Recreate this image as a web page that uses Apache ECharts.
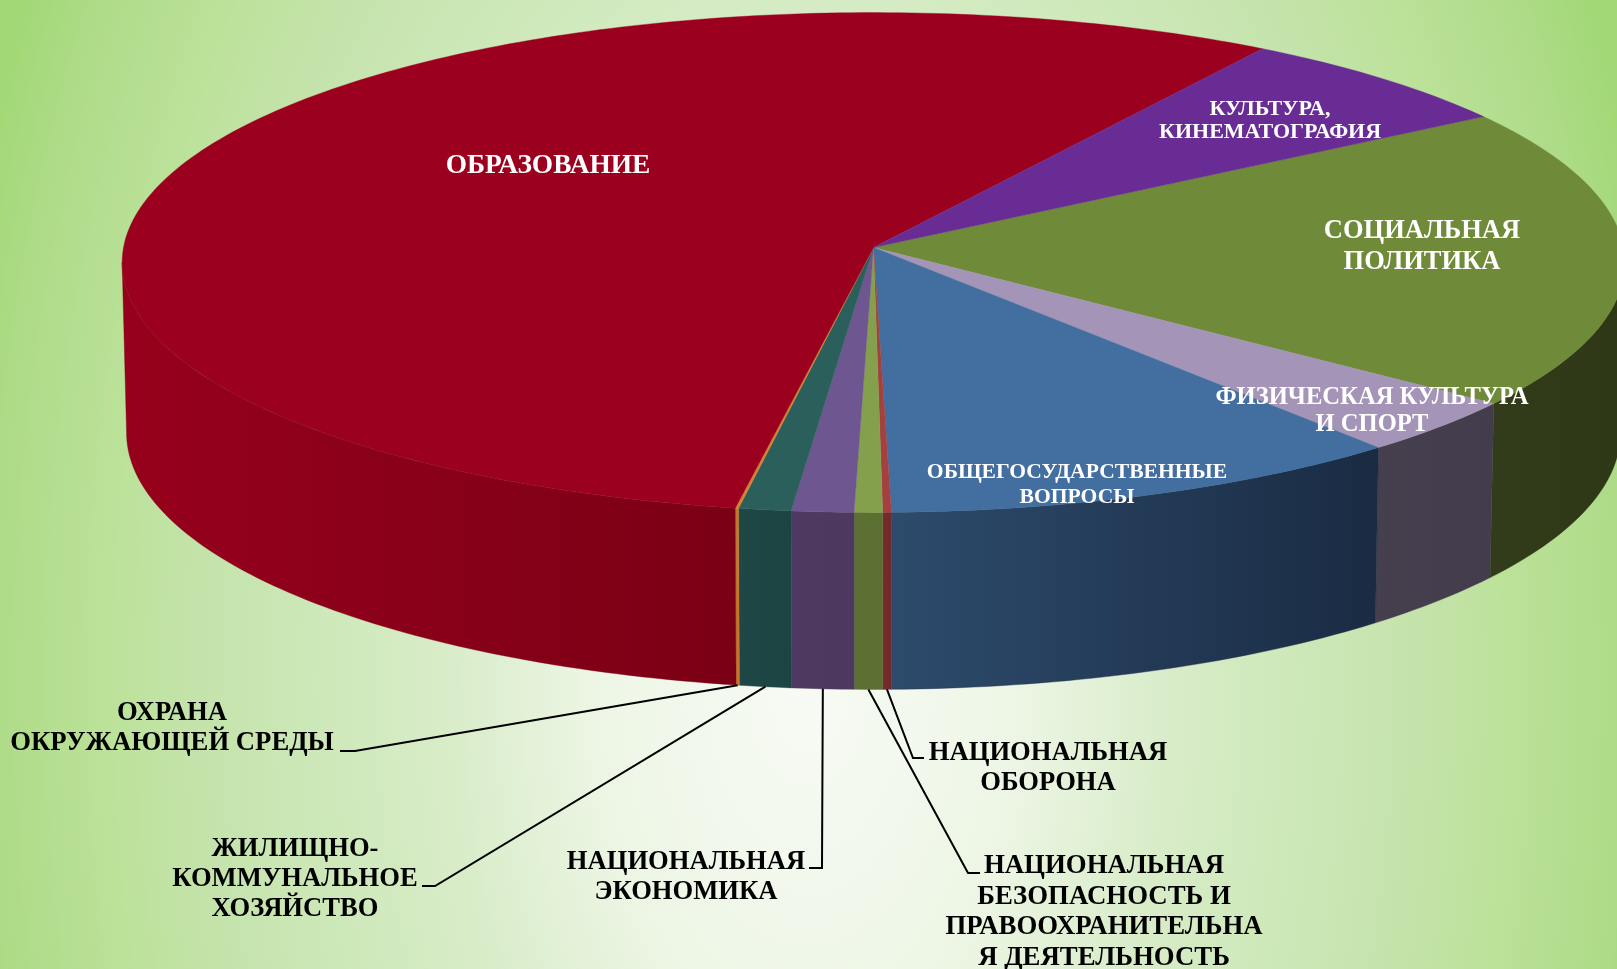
<!DOCTYPE html>
<html>
<head>
<meta charset="utf-8">
<style>html,body{margin:0;padding:0;background:#fff}#c{width:1617px;height:969px}</style>
<script src="https://cdn.jsdelivr.net/npm/echarts@6/dist/echarts.min.js"></script>
</head>
<body>
<div id="c"></div>
<script>
// ---- data (clockwise from the culture / social boundary) ----
const categories = [
  'СОЦИАЛЬНАЯ\nПОЛИТИКА',
  'ФИЗИЧЕСКАЯ КУЛЬТУРА\nИ СПОРТ',
  'ОБЩЕГОСУДАРСТВЕННЫЕ\nВОПРОСЫ',
  'НАЦИОНАЛЬНАЯ\nОБОРОНА',
  'НАЦИОНАЛЬНАЯ\nБЕЗОПАСНОСТЬ И\nПРАВООХРАНИТЕЛЬНА\nЯ ДЕЯТЕЛЬНОСТЬ',
  'НАЦИОНАЛЬНАЯ\nЭКОНОМИКА',
  'ЖИЛИЩНО-\nКОММУНАЛЬНОЕ\nХОЗЯЙСТВО',
  'ОХРАНА\nОКРУЖАЮЩЕЙ СРЕДЫ',
  'ОБРАЗОВАНИЕ',
  'КУЛЬТУРА,\nКИНЕМАТОГРАФИЯ'
];
const shares = [19.45, 3.58, 10.74, 0.175, 0.57, 1.26, 1.06, 0.067, 56.39, 6.70];

// ---- styles ----
const topColors = ['#6F8A38','#A394B8','#426EA0','#A44040','#85A04C','#6E5690','#2A5F5C','#D8802E','#9C001F','#692C94'];
const wallLeft  = ['#333C1A','#453F4E','#2D4B6C','#742B2B','#5D7033','#4F3B62','#1E4746','#C5762E','#97001C','#4A1F68'];
const wallRight = ['#2E3716','#423C4C','#1A2B43','#722A2A','#5C6F33','#4D395F','#1C4443','#C5762E','#7B0015','#4A1F68'];
const labelLayout = [
  {x:1422,y:247,size:26.5,lh:31,color:'#fff'},
  {x:1372,y:411.5,size:24.6,lh:27,color:'#fff'},
  {x:1077,y:484.5,size:21.6,lh:25,color:'#fff'},
  {x:1048,y:768,size:26.6,lh:30,color:'#000',elbow:[913,758],end:[924,758]},
  {x:1104,y:912,size:26.8,lh:30.4,color:'#000',elbow:[968,873],end:[980,873]},
  {x:686,y:877.5,size:26.6,lh:30,color:'#000',elbow:[822,868],end:[809,868]},
  {x:295,y:879,size:26.6,lh:30,color:'#000',elbow:[435,886],end:[422,886]},
  {x:172,y:728,size:26.7,lh:30,color:'#000',elbow:[355,751],end:[340,751]},
  {x:548,y:166,size:27.4,lh:30,color:'#fff'},
  {x:1270,y:121,size:22,lh:23,color:'#fff'}
];

// ---- projective pie geometry ----
const K = 0.06;
const topDisc = {cx:873.5, cy:247.5, a:750, b:249};
const botDisc = {cx:873.5, cy:417.3, a:745.6, b:255.8};
const START = -32.87;               // degrees, clockwise on screen, 0 = right
const total = shares.reduce((s,v)=>s+v,0);
const cum = []; shares.reduce((s,v,i)=>(cum[i]=s,s+v),0);
const angleOf = p => (START + p/total*360) * Math.PI/180;
function project(d, th){
  const u=Math.cos(th), v=Math.sin(th), w=1-K*v;
  return [d.cx+d.a*u/w, d.cy+d.b*v/w];
}
function arc(d,a0,a1){
  const n=Math.max(2,Math.ceil(Math.abs(a1-a0)/(Math.PI/180))), pts=[];
  for(let i=0;i<=n;i++) pts.push(project(d,a0+(a1-a0)*i/n));
  return pts;
}
const WALL_MIN=3.4*Math.PI/180, WALL_MAX=176.6*Math.PI/180;   // silhouette of the projected disc

function walls(params){
  const i=params.dataIndex;
  let a0=angleOf(cum[i]), a1=angleOf(cum[i]+shares[i]);
  a0=Math.max(a0,WALL_MIN); a1=Math.min(a1,WALL_MAX);
  if(a1<=a0) return null;
  const t=arc(topDisc,a0,a1), b=arc(botDisc,a0,a1).reverse(), pts=t.concat(b);
  const xs=pts.map(p=>p[0]); const x0=Math.min(...xs), x1=Math.max(...xs);
  const fill=new echarts.graphic.LinearGradient(x0,0,x1,0,[{offset:0,color:wallLeft[i]},{offset:1,color:wallRight[i]}],true);
  return {type:'polygon',shape:{points:pts},style:{fill,stroke:wallRight[i],lineWidth:0.4}};
}
function tops(params){
  const i=params.dataIndex;
  const pts=[[topDisc.cx,topDisc.cy]].concat(arc(topDisc,angleOf(cum[i]),angleOf(cum[i]+shares[i])));
  return {type:'polygon',shape:{points:pts},style:{fill:topColors[i],stroke:topColors[i],lineWidth:0.4}};
}
function leaders(params){
  const i=params.dataIndex, l=labelLayout[i];
  if(!l.elbow) return null;
  const s=project(botDisc,angleOf(cum[i]+shares[i]/2));
  return {type:'polyline',shape:{points:[s,l.elbow,l.end]},style:{fill:null,stroke:'#000',lineWidth:2}};
}
function labels(params){
  const i=params.dataIndex,l=labelLayout[i];
  return {type:'text',style:{text:categories[i],x:l.x,y:l.y,align:'center',verticalAlign:'middle',
    fontFamily:'"Liberation Serif"',fontWeight:'bold',fontSize:l.size,lineHeight:l.lh,fill:l.color}};
}
const rows=shares.map((v,i)=>[i,v]);
const mk=(fn,z)=>({type:'custom',coordinateSystem:'none',renderItem:fn,data:rows,z,silent:true,animation:false,clip:false});

// background: elliptical radial gradient
const BG={cx:808,cy:680,rx:871.5,ry:1500};
const chart=echarts.init(document.getElementById('c'),null,{renderer:'canvas',width:1617,height:969});
chart.setOption({
  animation:false,
  graphic:{elements:[{type:'rect',z:-10,x:BG.cx,y:BG.cy,scaleX:BG.rx/100,scaleY:BG.ry/100,silent:true,
    shape:{x:-BG.cx/BG.rx*100,y:-BG.cy/BG.ry*100,width:1617/BG.rx*100,height:969/BG.ry*100},
    style:{fill:{type:'radial',x:0,y:0,r:100,global:true,colorStops:[
      {offset:0,color:'#F8FBF5'},{offset:0.24,color:'#EDF6E5'},{offset:0.42,color:'#D8ECC8'},{offset:0.57,color:'#CDE8B8'},
      {offset:0.70,color:'#C4E3AB'},{offset:0.80,color:'#BCE29A'},{offset:0.93,color:'#AEDB88'},{offset:1,color:'#A3D877'}]}}}]},
  series:[mk(walls,1),mk(tops,2),mk(leaders,3),mk(labels,4)]
});
</script>
</body>
</html>
